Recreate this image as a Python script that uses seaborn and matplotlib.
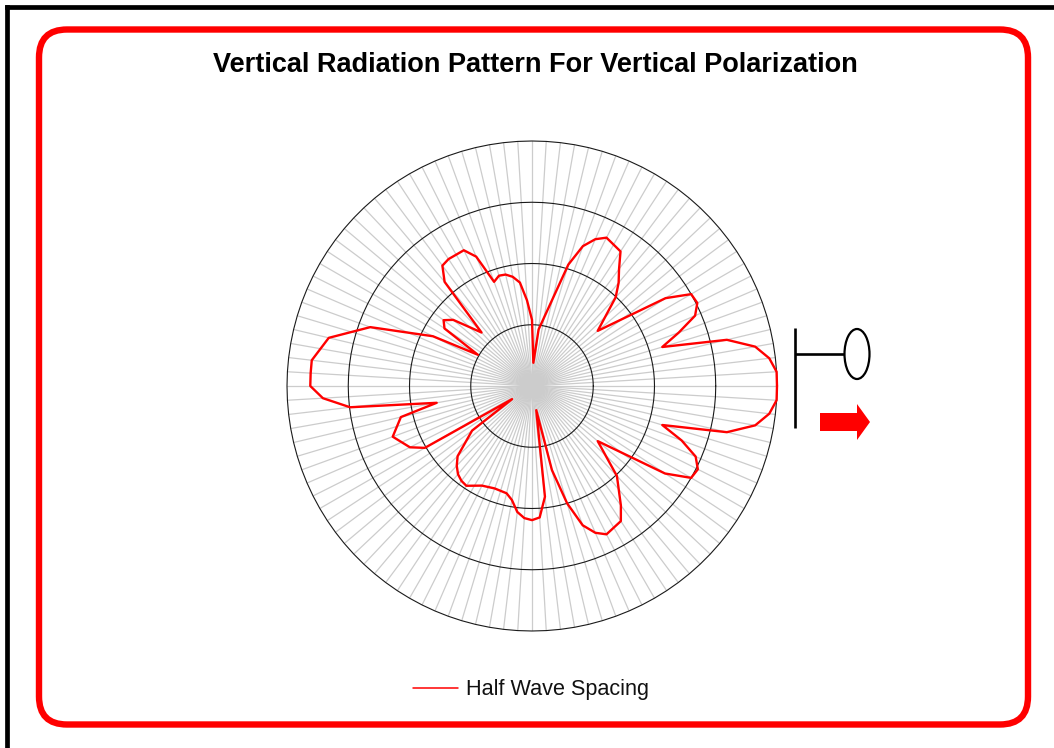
import matplotlib

matplotlib.use("Agg")
import matplotlib.pyplot as plt
import numpy as np
import seaborn as sns
from matplotlib.lines import Line2D
from matplotlib.patches import Ellipse, FancyBboxPatch, Polygon

WIDTH, HEIGHT = 1054, 748
N_SPOKES = 108
RING_LEVELS = [-30, -20, -10, 0]
TITLE = "Vertical Radiation Pattern For Vertical Polarization"
SERIES_NAME = "Half Wave Spacing"

# spoke number of each corner of the red line (straight runs have no corner)
SPOKE_INDEX = [
    0, 1, 2, 3, 4, 5, 6, 7, 8, 9, 10, 12, 14, 15, 16, 17, 19, 20, 21, 22,
    25, 26, 27, 28, 29, 30, 31, 32, 33, 34, 35, 37, 38, 39, 40, 41, 42, 43,
    44, 45, 46, 48, 50, 52, 53, 54, 55, 56, 57, 58, 60, 62, 63, 64, 65, 67,
    68, 69, 70, 71, 73, 75, 77, 78, 79, 80, 81, 82, 83, 84, 85, 86, 87, 88,
    89, 91, 92, 94, 96, 98, 99, 100, 101, 102, 103, 104, 105, 106, 107, 108,
]
LEVEL_DB = [
    0.0, 0.0, -1.0, -3.0, -7.3, -17.8, -14.5, -11.0, -9.8, -10.0, -13.9,
    -26.0, -20.1, -18.0, -16.2, -13.7, -12.9, -13.9, -15.7, -19.3,
    -30.7, -36.2, -29.2, -26.0, -23.0, -21.9, -21.3, -21.2, -21.9, -17.0,
    -15.2, -15.2, -15.5, -17.8, -28.0, -26.0, -23.2, -22.0,
    -22.9, -29.8, -21.9, -11.9, -5.9, -3.8, -3.8, -3.8, -5.8, -10.1, -24.2,
    -18.0, -15.8, -17.7, -19.8, -36.1, -27.8, -23.3,
    -22.1, -21.2, -20.7, -20.5, -21.8, -22.2, -22.0, -21.1, -19.3, -18.4,
    -18.1, -18.5, -21.8, -36.0, -25.9, -20.0, -15.8, -13.9,
    -12.9, -13.6, -15.7, -19.8, -26.0, -14.0, -10.0, -9.7, -10.9, -14.0,
    -17.8, -7.3, -3.0, -1.0, 0.0, 0.0,
]


def px_x(x):
    return x / WIDTH


def px_y(y):
    return 1 - y / HEIGHT


def add_decoration(fig):
    # outer black edge, only top and left show in the page
    fig.add_artist(Line2D([px_x(7), px_x(7)], [0, px_y(7)], color="black", lw=3.4, solid_capstyle="projecting"))
    fig.add_artist(Line2D([px_x(7), 1], [px_y(7), px_y(7)], color="black", lw=3.4, solid_capstyle="projecting"))

    # figure pixels, y going down
    to_fig = matplotlib.transforms.Affine2D().scale(1, -1).translate(0, HEIGHT)

    pad = 24
    frame = FancyBboxPatch(
        (39 + pad, 29.5 + pad),
        989 - 2 * pad,
        695 - 2 * pad,
        boxstyle=f"round,pad={pad},rounding_size=28",
        fill=False,
        edgecolor="#ff0000",
        lw=4.6,
        transform=to_fig,
    )
    fig.add_artist(frame)

    # dipole symbol and direction arrow
    fig.add_artist(Line2D([795, 795], [328, 428], color="black", lw=1.9, solid_capstyle="butt", transform=to_fig))
    fig.add_artist(Line2D([795, 844], [354, 354], color="black", lw=1.9, solid_capstyle="butt", transform=to_fig))
    fig.add_artist(
        Ellipse((857, 354), 25, 50, fill=False, edgecolor="black", lw=1.6, transform=to_fig)
    )
    fig.add_artist(
        Polygon(
            [(820, 413), (857, 413), (857, 404), (870, 422), (857, 440), (857, 431), (820, 431)],
            closed=True,
            facecolor="#ff0000",
            edgecolor="none",
            transform=to_fig,
        )
    )


def main() -> None:
    sns.set_theme(style="white")
    plt.rcParams["font.family"] = ["Liberation Sans", "DejaVu Sans"]

    fig = plt.figure(figsize=(WIDTH / 100, HEIGHT / 100), dpi=100)
    ax = fig.add_axes(
        [px_x(287), px_y(631), 490 / WIDTH, 490 / HEIGHT], projection="polar"
    )

    spoke_theta = np.arange(N_SPOKES + 1) * 2 * np.pi / N_SPOKES
    for level in RING_LEVELS:
        sns.lineplot(
            x=spoke_theta,
            y=[level] * len(spoke_theta),
            sort=False,
            estimator=None,
            color="#1a1a1a",
            linewidth=0.8,
            ax=ax,
        )

    sns.lineplot(
        x=np.array(SPOKE_INDEX) * 2 * np.pi / N_SPOKES,
        y=LEVEL_DB,
        sort=False,
        estimator=None,
        color="#ff0000",
        linewidth=1.7,
        label=SERIES_NAME,
        legend=False,
        ax=ax,
    )

    ax.set_ylim(-40, 0)
    ax.set_xticks(spoke_theta[:-1])
    ax.set_xticklabels([])
    ax.set_yticks(RING_LEVELS)
    ax.set_yticklabels([])
    ax.xaxis.grid(True, color="#cccccc", linewidth=0.9)
    ax.yaxis.grid(False)
    ax.spines["polar"].set_visible(False)
    ax.set_xlabel("")
    ax.set_ylabel("")
    for line in ax.lines:
        line.set_clip_on(False)

    add_decoration(fig)

    fig.text(
        px_x(535), px_y(65), TITLE,
        ha="center", va="center", fontsize=19.5, fontweight="bold", color="black",
    )

    handles, labels = ax.get_legend_handles_labels()
    fig.legend(
        handles, labels,
        loc="center",
        bbox_to_anchor=(px_x(531), px_y(690)),
        frameon=False,
        fontsize=15.6,
        handlelength=2.1,
        handletextpad=0.35,
        labelcolor="#111111",
    )
    for handle in fig.legends[0].get_lines():
        handle.set_linewidth(1.1)

    fig.savefig("out.png", dpi=100)


if __name__ == "__main__":
    main()
